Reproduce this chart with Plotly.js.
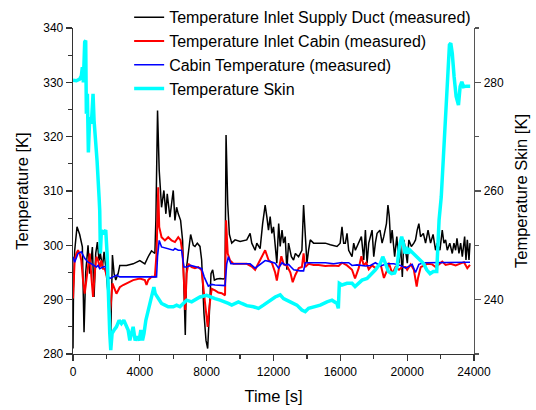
<!DOCTYPE html>
<html>
<head>
<meta charset="utf-8">
<script src="https://cdn.plot.ly/plotly-3.0.1.min.js"></script>
<style>html,body{margin:0;padding:0;background:#fff;}#chart{width:536px;height:410px;}</style>
</head>
<body>
<div id="chart"></div>
<script>
// Temperature Inlet Supply Duct (measured) [K]
const tDuct = [0,30,100,240,400,560,660,760,900,1000,1160,1260,1360,1460,1560,1640,1760,1860,1960,2100,2240,2360,2460,2560,2700,2800,3200,3600,4000,4300,4500,4700,4900,4960,5060,5160,5300,5440,5560,5640,5800,5920,6000,6100,6200,6300,6440,6560,6660,6720,6800,6900,7040,7200,7300,7440,7600,7700,7840,7960,8060,8160,8260,8360,8460,8600,8800,9000,9100,9160,9260,9360,9500,9700,10000,10400,10600,10700,10900,11000,11200,11350,11500,11600,11700,11800,11900,12000,12100,12200,12310,12400,12510,12600,12700,12800,12900,13070,13200,13310,13500,13700,13800,13900,14000,14100,14200,14400,14700,15100,15400,15800,15990,16100,16200,16300,16400,16500,16700,16800,16900,17100,17260,17400,17500,17600,17700,17900,18000,18100,18200,18370,18500,18600,18760,18850,18930,19010,19100,19250,19380,19510,19600,19710,19800,19900,20010,20100,20250,20400,20500,20600,20700,20800,20970,21100,21250,21400,21550,21700,21800,21960,22100,22200,22300,22400,22550,22700,22800,22900,22980,23100,23200,23300,23440,23520,23600,23700,23760];
const duct = [281,292,299,303.4,302,299.7,284,295,300,294.8,299.7,290.5,298.5,300.6,297.2,298.5,296,298.8,296,291,281.3,298.2,294.8,293.6,294.8,296.3,296.3,296.6,297.2,296.6,297.9,299,298.5,304.6,324.8,313.8,307,310.1,305.8,309.5,305.2,308.3,310.1,304.6,307,305.8,304.6,300.9,288.7,283.5,296,298.5,302,300,299.8,300.4,299.8,297.3,287.4,282.5,281,287.4,294.8,295.5,293.6,293.8,293.9,293.8,294,320.3,307.7,302,300.4,301,300.7,301,302.2,300.4,299.1,300.4,299.4,304,307.4,305.3,302.8,305.3,302.2,303.4,300.4,296.7,304,299.8,302.8,300.4,301.6,295.5,300.4,297.9,297.3,298.5,297.9,299.1,307.4,302.8,296.7,299.1,301,300.4,300.4,300.4,300.1,299.8,300.4,303.4,300.4,300.4,302.2,299.1,297.9,300.4,299.1,300.4,301.6,297.3,302.8,296.7,300.4,302.8,297.9,300.5,302.2,302.8,300.4,301.6,304,307.4,305.3,300.4,302.8,297.9,301.6,296.7,300.4,294.2,301,299.1,296.7,301,299.8,300.4,301,302.8,304,301.6,302.2,300.4,302.8,300.4,302,299.1,300.4,299.1,302.8,300.4,301,299.1,300.4,298.5,300.4,299.1,301.3,298.5,300.4,297.9,301.6,297.3,301,297.3,300.4];

// Temperature Inlet Cabin (measured) [K]
const tInlet = [0,100,200,300,400,500,600,700,800,900,1000,1100,1200,1300,1400,1500,1600,1700,1800,1900,2000,2100,2200,2260,2360,2460,2600,2700,2800,3000,3200,3600,4000,4300,4400,4500,4700,4900,5000,5100,5160,5300,5500,5700,5900,6100,6300,6440,6560,6640,6720,6800,6900,7100,7300,7500,7700,7840,7960,8060,8160,8300,8500,8700,8900,9100,9160,9260,9400,9600,10000,10400,10700,10900,11100,11300,11500,11700,11900,12100,12200,12310,12470,12610,12800,13010,13150,13300,13510,13700,13800,13900,14100,14400,14700,15100,15500,15900,16100,16400,16700,16880,17100,17260,17400,17550,17700,17900,18100,18410,18610,18810,18900,19110,19300,19510,19700,19910,20000,20210,20400,20570,20650,20810,21200,21500,21700,21900,22100,22300,22600,22900,23200,23400,23600,23760];
const inlet = [290.2,297.2,298.5,299.1,298.5,297.2,293.6,291.1,293.6,296,298.5,294.2,290.5,294.8,297.9,297.2,296,297.2,295.7,295.7,294.8,293.6,287.4,289,293,292.3,291.1,291.7,292.3,292.7,293,293.6,293.9,293.6,292.7,293.6,294.2,294.2,298.5,310.7,303.4,301.5,300.9,301.5,300.9,300.6,301.5,300.9,298.5,292.3,288.1,294.8,296.6,296,295.8,296,295.4,291.1,287.4,285,288.7,292,291.7,291.3,291.2,290.8,304.6,298.5,297.2,296.6,296.6,296.6,296.1,295.5,296.7,297.9,299.1,297.3,296.8,295,293.5,295.5,298,296.5,296.3,295,293.2,294.5,295.8,296,298.5,296,296.6,296.4,296.4,296.2,296.3,296.2,296.8,296.3,295.5,293.9,295.8,298,296.3,296.8,295.6,296.3,295.8,296.5,294,295.5,296.8,294.8,296,295.5,296,296,295.5,296.5,295.5,292.4,294,296,296.6,296.5,296,296.5,297,296.4,296.6,296.3,296.6,296.9,295.8,296.4];

// Cabin Temperature (measured) [K]
const tCabin = [0,100,300,500,700,900,1100,1300,1400,1500,1600,1800,1960,2050,2200,2400,2600,2800,3200,3800,4200,4600,5000,5060,5160,5300,5600,6000,6100,6300,6500,6640,6800,7040,7400,7700,7850,8100,8300,8500,9100,9200,9300,9450,9800,10600,10900,11100,11300,11500,11800,12100,12300,12510,12700,12900,13050,13210,13610,13800,13900,14500,15100,15600,16000,16500,16700,17000,17500,17800,18100,18400,18800,19200,19600,19910,20300,20500,20700,21000,21500,22000,22500,23000,23760];
const cabin = [297.9,296.9,298.5,298.8,297.6,296.9,296.6,296.3,296,296.3,295.7,296,296.1,294.5,293.9,294.2,294.5,294.2,294.2,294.2,294.2,294.1,294.2,298,300.9,299.7,299.4,299.1,299.4,299.1,299.1,296,296,296.3,296,295.7,294.2,292.5,292.8,292.7,292.6,296.6,297.9,296.6,296.6,296.6,295.8,296.3,296.7,297.2,297,296.7,295.8,296.8,296.4,296.5,296,295.5,295.3,295.3,296.8,296.8,296.8,296.6,296.8,296.8,296.3,296.4,296.2,296.3,296.8,296.2,296.6,296.6,296.3,295.8,296.5,295,296.5,296.8,296.8,296.9,296.8,296.9,296.9];

// Temperature Skin [K] (right axis)
const tSkin = [0,200,400,500,560,620,700,760,800,860,920,1000,1100,1200,1260,1360,1440,1560,1600,1640,1700,1800,1960,2040,2120,2200,2260,2340,2460,2600,2760,2900,3040,3200,3300,3400,3500,3600,3720,3840,3960,4060,4160,4250,4360,4500,4640,4760,4840,4920,5040,5160,5300,5500,5700,6000,6200,6400,6600,6800,7100,7400,7600,8000,8200,8500,8800,9100,9300,9500,9700,9900,10100,10400,10800,11100,11400,11800,12100,12400,12600,13000,13400,13700,13900,14100,14400,14800,15200,15500,15800,15880,15940,16100,16400,16700,16880,17100,17300,17600,17900,18100,18400,18540,18700,18870,19070,19250,19400,19530,19670,19770,19870,19970,20070,20170,20370,20570,20770,20970,21170,21370,21570,21770,21910,22040,22170,22270,22370,22470,22530,22610,22700,22810,22930,23070,23170,23270,23370,23570,23770];
const skin = [280.4,280.3,280.6,281.2,282.8,280,287.4,287.7,274.2,277.9,267.1,273.6,272.4,277.9,273,269.3,265.6,258.9,256.4,248.5,252.8,252.1,252.8,248.5,239.3,233.8,230.7,233.8,234.4,235,236.2,235.6,236.2,235,234.4,232.5,233.8,235,232.5,233.2,232.5,234.4,232.5,233.8,236.2,238.1,239.3,241.1,242.3,241.1,240.5,239.9,239.3,239,238.7,238.7,239,238.7,239.3,239.9,239.6,240.2,240.5,240.8,240.5,240.2,239.9,239.6,239.3,239,239.3,239.6,239.3,238.9,238.7,238.4,239,239.9,240.5,240.9,240.2,239.6,239,238.1,237.8,238.4,238.7,239,239.6,239.9,239.3,238.4,243,242.7,243,243,242.4,243,243.6,243.9,244.8,245.5,246.7,247.9,246.7,245.2,244.8,244.9,246.1,249.7,251.6,250.4,248.5,249.7,248.5,249.1,248.5,247.9,247.3,246.7,245.5,244.8,245.2,245.2,254.7,258.9,266.3,271.8,277.4,281.7,286.9,287.2,285.3,281,277.4,275.8,279.2,280.1,279.2,279.3,279.3];

const names = ['Temperature Inlet Supply Duct (measured)','Temperature Inlet Cabin (measured)','Cabin Temperature (measured)','Temperature Skin'];

const font = 'Liberation Sans, Arial, sans-serif';
const axColor = '#333333';

const traces = [
  {x: tDuct, y: duct, name: names[0], type: 'scatter', mode: 'lines', line: {color: '#000000', width: 1.5}},
  {x: tInlet, y: inlet, name: names[1], type: 'scatter', mode: 'lines', line: {color: '#ff0000', width: 2}},
  {x: tCabin, y: cabin, name: names[2], type: 'scatter', mode: 'lines', line: {color: '#0000ff', width: 1.6}},
  {x: tSkin, y: skin, name: names[3], type: 'scatter', mode: 'lines', yaxis: 'y2', line: {color: '#00ffff', width: 3.5}}
];

const layout = {
  width: 536, height: 410,
  margin: {l: 73, r: 62, t: 28, b: 56, autoexpand: false},
  paper_bgcolor: '#ffffff', plot_bgcolor: '#ffffff',
  font: {family: font, size: 12, color: '#000000'},
  showlegend: true,
  legend: {x: 0.14, y: 1.085, xanchor: 'left', yanchor: 'top', bgcolor: 'rgba(0,0,0,0)', font: {size: 16, family: font}, tracegroupgap: 0, itemwidth: 30},
  xaxis: {
    range: [0, 24000], dtick: 4000, tick0: 0, tickformat: 'd', showgrid: false, zeroline: false,
    showline: true, linecolor: axColor, linewidth: 1.3,
    ticks: 'outside', ticklen: 6, tickwidth: 1.2, tickcolor: axColor,
    minor: {dtick: 2000, ticks: 'outside', ticklen: 4, tickwidth: 1.2, tickcolor: axColor, showgrid: false},
    tickfont: {size: 12}, title: {text: 'Time [s]', font: {size: 16.5}, standoff: 12}
  },
  yaxis: {
    range: [280, 340], dtick: 10, tick0: 280, showgrid: false, zeroline: false,
    showline: true, linecolor: axColor, linewidth: 1.3,
    ticks: 'outside', ticklen: 6, tickwidth: 1.2, tickcolor: axColor,
    minor: {dtick: 5, ticks: 'outside', ticklen: 4, tickwidth: 1.2, tickcolor: axColor, showgrid: false},
    tickfont: {size: 12}, title: {text: 'Temperature [K]', font: {size: 16.5}, standoff: 10}
  },
  yaxis2: {
    overlaying: 'y', side: 'right', anchor: 'x',
    range: [230, 290], dtick: 20, tick0: 240, showgrid: false, zeroline: false,
    showline: true, linecolor: '#555555', linewidth: 1.3,
    ticks: 'outside', ticklen: 6, tickwidth: 1.2, tickcolor: '#555555',
    minor: {dtick: 10, ticks: 'outside', ticklen: 4, tickwidth: 1.2, tickcolor: '#555555', showgrid: false},
    tickfont: {size: 12}, title: {text: 'Temperature Skin [K]', font: {size: 16.5}, standoff: 12}
  }
};

Plotly.newPlot('chart', traces, layout, {displayModeBar: false, staticPlot: true});
</script>
</body>
</html>
